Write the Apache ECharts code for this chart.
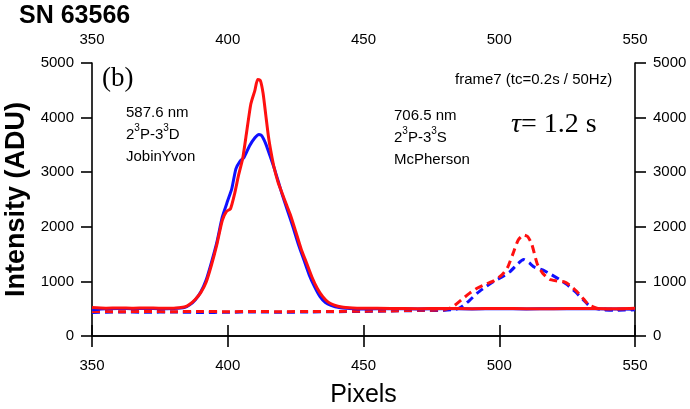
<!DOCTYPE html>
<html>
<head>
<meta charset="utf-8">
<script src="https://cdn.jsdelivr.net/npm/echarts@6/dist/echarts.min.js"></script>
<style>
  html, body { margin: 0; padding: 0; background: #fff; }
  #main { width: 690px; height: 409px; }
</style>
</head>
<body>
<div id="main"></div>
<script>
// pixel axis ticks
var xTicks = [350, 400, 450, 500, 550];
var yTicks = [0, 1000, 2000, 3000, 4000, 5000];

// JobinYvon 587.6 nm, solid
var blueSolidX = [350, 355, 360, 365, 370, 375, 380, 384, 386, 388, 390, 392, 394, 396, 398, 400, 401.5, 403, 404.5, 406, 408, 410, 411.5, 412.5, 414, 415.5, 417, 418.5, 420, 422, 424, 426, 428, 430, 432, 434, 436, 438, 441, 445, 450, 460, 470, 480, 490, 500, 510, 520, 530, 540, 550];
var blueSolidY = [480, 500, 505, 500, 505, 500, 505, 520, 570, 660, 800, 1020, 1350, 1720, 2180, 2480, 2700, 3060, 3200, 3270, 3480, 3630, 3690, 3670, 3520, 3310, 3090, 2850, 2600, 2300, 2000, 1680, 1400, 1120, 900, 720, 610, 560, 520, 505, 495, 500, 495, 500, 495, 500, 495, 500, 500, 495, 490];

var redSolidX = [350, 355, 360, 365, 370, 375, 380, 384, 386, 388, 390, 392, 394, 396, 398, 399.5, 401, 402.5, 404, 405.5, 407, 408.5, 410, 411, 412, 413, 414, 415, 416, 417, 418.5, 420, 421.5, 423, 425, 427, 429, 431, 433, 435, 437, 439, 442, 446, 450, 460, 470, 480, 490, 500, 510, 520, 530, 540, 550];
var redSolidY = [520, 510, 515, 510, 515, 510, 510, 530, 580, 670, 790, 980, 1300, 1680, 2120, 2280, 2330, 2600, 2950, 3250, 3750, 4250, 4500, 4700, 4680, 4450, 4050, 3650, 3350, 3100, 2820, 2620, 2420, 2230, 1920, 1600, 1340, 1080, 870, 720, 620, 570, 530, 515, 510, 505, 500, 505, 500, 505, 500, 500, 505, 500, 510];

// McPherson 706.5 nm, dashed
var blueDashX = [350, 360, 370, 380, 390, 400, 410, 420, 430, 440, 450, 460, 470, 480, 484, 486, 489, 492, 495, 498, 501, 504, 507, 509, 511, 513, 516, 519, 522, 525, 528, 531, 533, 535, 538, 542, 546, 550];
var blueDashY = [430, 440, 435, 440, 430, 435, 440, 435, 440, 445, 450, 460, 465, 470, 490, 530, 650, 790, 900, 1000, 1080, 1180, 1330, 1400, 1340, 1260, 1210, 1130, 1040, 940, 810, 660, 560, 510, 480, 470, 475, 480];

var redDashX = [350, 360, 370, 380, 390, 400, 410, 420, 430, 440, 450, 460, 470, 480, 483, 486, 489, 492, 495, 498, 501, 503, 505, 507, 509, 510.5, 512, 514, 516, 518.5, 521, 524, 526, 528.5, 531, 533, 536, 540, 545, 550];
var redDashY = [450, 445, 450, 445, 450, 445, 450, 445, 450, 450, 455, 460, 470, 480, 540, 660, 780, 880, 950, 1010, 1120, 1250, 1500, 1760, 1850, 1820, 1680, 1320, 1150, 1040, 1010, 990, 930, 820, 680, 570, 510, 490, 490, 500];

function pairs(xs, ys) {
    var out = [];
    for (var i = 0; i < xs.length; i++) {
        out.push([xs[i], ys[i]]);
    }
    return out;
}

var chart = echarts.init(document.getElementById('main'), null, { renderer: 'canvas' });

var axisLine = { show: true, lineStyle: { color: '#000', width: 1.6 } };
var axisTick = { show: true, inside: false, length: 11, lineStyle: { color: '#000', width: 1.6 } };

function tickLabel(margin) {
    return {
        margin: margin,
        color: '#000',
        fontSize: 15,
        fontFamily: 'Liberation Sans',
        formatter: function (v) { return String(v); }
    };
}

function xAxisOpt(pos, margin, extra) {
    var o = {
        type: 'value',
        position: pos,
        min: xTicks[0],
        max: xTicks[xTicks.length - 1],
        interval: xTicks[1] - xTicks[0],
        axisLine: axisLine,
        axisTick: axisTick,
        splitLine: { show: false },
        axisLabel: tickLabel(margin)
    };
    return Object.assign(o, extra || {});
}

function yAxisOpt(pos, extra) {
    var o = {
        type: 'value',
        position: pos,
        min: yTicks[0],
        max: yTicks[yTicks.length - 1],
        interval: yTicks[1] - yTicks[0],
        axisLine: axisLine,
        axisTick: axisTick,
        splitLine: { show: false },
        axisLabel: tickLabel(18)
    };
    return Object.assign(o, extra || {});
}

function line(name, data, color, dashed) {
    return {
        name: name,
        type: 'line',
        data: data,
        showSymbol: false,
        smooth: 0.2,
        xAxisIndex: 0,
        yAxisIndex: 0,
        lineStyle: { color: color, width: 3, type: dashed ? [8, 5] : 'solid' },
        itemStyle: { color: color },
        animation: false
    };
}

// small rich text styles for the line notes (superscript 3)
var noteRich = {
    n: { fontSize: 15, fontFamily: 'Liberation Sans', fill: '#000', lineHeight: 22 },
    s: { fontSize: 10, fontFamily: 'Liberation Sans', fill: '#000', lineHeight: 22, padding: [0, 0, 12, 0] }
};

var option = {
    backgroundColor: '#fff',
    animation: false,
    grid: { left: 92, right: 55, top: 63, bottom: 73, containLabel: false, outerBoundsMode: 'none' },
    xAxis: [
        xAxisOpt('bottom', 22, {
            name: 'Pixels',
            nameLocation: 'middle',
            nameGap: 47,
            nameTextStyle: { color: '#000', fontSize: 25, fontFamily: 'Liberation Sans' }
        }),
        xAxisOpt('top', 16)
    ],
    yAxis: [
        yAxisOpt('left', {
            name: 'Intensity (ADU)',
            nameLocation: 'middle',
            nameGap: 58,
            nameTextStyle: { color: '#000', fontSize: 27, fontWeight: 'bold', fontFamily: 'Liberation Sans' }
        }),
        yAxisOpt('right')
    ],
    series: [
        line('blue dashed', pairs(blueDashX, blueDashY), '#1010ff', true),
        line('red dashed', pairs(redDashX, redDashY), '#ff1010', true),
        line('blue solid', pairs(blueSolidX, blueSolidY), '#1010ff', false),
        line('red solid', pairs(redSolidX, redSolidY), '#ff1010', false)
    ],
    graphic: [
        { type: 'text', left: 19, top: 4, style: { text: 'SN 63566', fill: '#000', font: 'bold 25px "Liberation Sans"' } },
        { type: 'text', left: 102, top: 65, style: { text: '(b)', fill: '#000', font: '27px "Liberation Serif"' } },
        { type: 'text', left: 455, top: 72, style: { text: 'frame7 (tc=0.2s / 50Hz)', fill: '#000', font: '15px "Liberation Sans"' } },
        { type: 'text', left: 126, top: 105, style: { text: '{n|587.6 nm}\n{n|2}{s|3}{n|P-3}{s|3}{n|D}\n{n|JobinYvon}', rich: noteRich } },
        { type: 'text', left: 394, top: 108, style: { text: '{n|706.5 nm}\n{n|2}{s|3}{n|P-3}{s|3}{n|S}\n{n|McPherson}', rich: noteRich } },
        { type: 'text', left: 511, top: 111, style: { text: '{i|τ}{n|= 1.2 s}', fill: '#000', rich: {
            i: { fontStyle: 'italic', fontSize: 28, fontFamily: 'Liberation Serif', fill: '#000' },
            n: { fontSize: 28, fontFamily: 'Liberation Serif', fill: '#000' }
        } } }
    ]
};

chart.setOption(option);
</script>
</body>
</html>
